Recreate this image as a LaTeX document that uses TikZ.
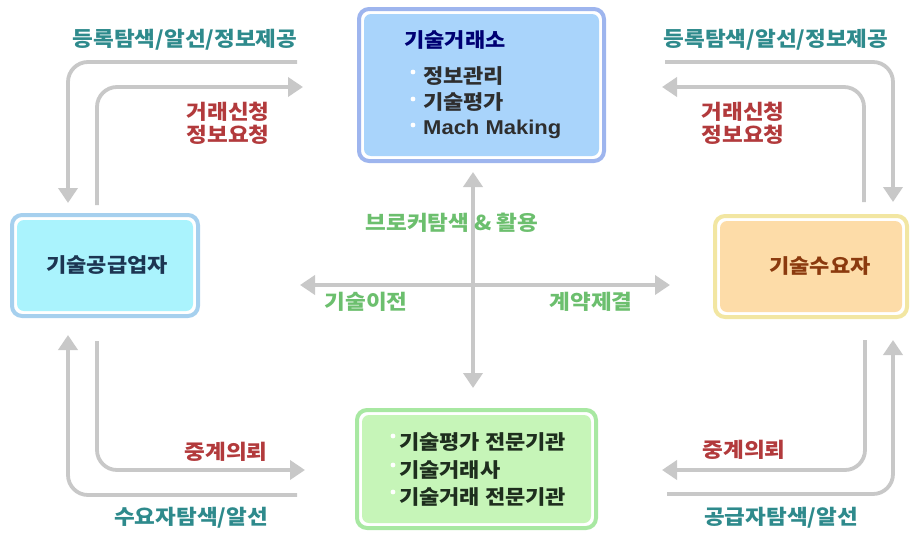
\documentclass[tikz,border=0pt]{standalone}
\usepackage{fontspec}
\setmainfont{Noto Sans CJK KR}[FakeStretch=1.1]
\newfontfamily\latinfont{Liberation Sans}
\usetikzlibrary{arrows.meta}

\definecolor{flowgray}{HTML}{C8C8C8}
\definecolor{tealtxt}{HTML}{2E8A8C}
\definecolor{redtxt}{HTML}{B23A3C}
\definecolor{greentxt}{HTML}{6CBF6E}
\definecolor{exchBorder}{HTML}{9EB5EE}
\definecolor{exchFill}{HTML}{A9D4FB}
\definecolor{suppBorder}{HTML}{A6D0EE}
\definecolor{suppFill}{HTML}{AAF3FD}
\definecolor{demBorder}{HTML}{F2E6A2}
\definecolor{demFill}{HTML}{FDDCA8}
\definecolor{agBorder}{HTML}{A8E8A2}
\definecolor{agFill}{HTML}{C6F5B8}

\tikzset{
  tip/.style={-{Triangle[width=19pt,length=15pt]}},
  flow/.style={draw=flowgray, line width=3.8pt, rounded corners=20pt, tip},
  twoway/.style={draw=flowgray, line width=3.8pt,
    {Triangle[width=19pt,length=15pt]}-{Triangle[width=19pt,length=15pt]}},
  lbl/.style={font=\bfseries\fontsize{20.5}{23}\selectfont, inner sep=0pt},
  boxtxt/.style={font=\bfseries\fontsize{20}{22}\selectfont, inner sep=0pt},
  panel/.style 2 args={draw=#1, line width=4pt, fill=white, rounded corners=10pt,
    inner sep=0pt,
    path picture={\fill[#2, rounded corners=7pt]
      ([shift={(5pt,-5pt)}]path picture bounding box.north west) rectangle
      ([shift={(-5pt,5pt)}]path picture bounding box.south east);}},
  dot/.style={fill=white},
}

\begin{document}
\begin{tikzpicture}[x=1pt,y=-1pt]
\useasboundingbox (0,0) rectangle (912,533);

% ---- boxes ----
\node[panel={exchBorder}{exchFill}, minimum width=245pt, minimum height=152pt] (exch) at (481.5,85) {};
\node[panel={suppBorder}{suppFill}, minimum width=186pt, minimum height=101pt] (supp) at (105,265.5) {};
\node[panel={demBorder}{demFill}, minimum width=192pt, minimum height=101pt] (dem) at (811,266.5) {};
\node[panel={agBorder}{agFill}, minimum width=239pt, minimum height=118pt] (agency) at (476.5,469) {};

% ---- box texts ----
\node[boxtxt, text=blue!45!black] (exchTitle) at (455,40) {기술거래소};
\node[boxtxt, text=black!82, anchor=west] (exchA) at (423,76) {정보관리};
\node[boxtxt, text=black!82, anchor=west] (exchB) at (423,102) {기술평가};
\node[boxtxt, text=black!82, anchor=west] (exchC) at (423,129)
  {\latinfont\fontsize{20}{22}\selectfont\scalebox{1.1}[1]{Mach Making}};
\foreach \yy in {72,99,125} \fill[dot] (413,\yy) circle (2.4pt);

\node[boxtxt, text={rgb,255:red,28;green,53;blue,82}] (suppTxt) at (107,265) {기술공급업자};
\node[boxtxt, text={rgb,255:red,139;green,58;blue,14}] (demTxt) at (820,266) {기술수요자};

\node[boxtxt, text={rgb,255:red,30;green,46;blue,30}, anchor=west] (agA) at (399,442) {기술평가 전문기관};
\node[boxtxt, text={rgb,255:red,30;green,46;blue,30}, anchor=west] (agB) at (399,470) {기술거래사};
\node[boxtxt, text={rgb,255:red,30;green,46;blue,30}, anchor=west] (agC) at (399,497) {기술거래 전문기관};
\foreach \yy in {436,465,492} \fill[dot] (393,\yy) circle (2.4pt);

% ---- arrow end points ----
\coordinate (tlOutA) at (297,62);   \coordinate (tlOutB) at (68,203);
\coordinate (tlInA)  at (97,205);   \coordinate (tlInB)  at (303,87);
\coordinate (trOutA) at (665,62);   \coordinate (trOutB) at (893,202);
\coordinate (trInA)  at (864,202);  \coordinate (trInB)  at (662,87);
\coordinate (blOutA) at (297,495);  \coordinate (blOutB) at (68,335);
\coordinate (blInA)  at (97,341);   \coordinate (blInB)  at (305,470);
\coordinate (brInA)  at (865,340);  \coordinate (brInB)  at (662,470);
\coordinate (brOutA) at (667,494);  \coordinate (brOutB) at (893,340);
\coordinate (vTop) at (473,172);    \coordinate (vBot) at (473,388);
\coordinate (hLeft) at (300,285);   \coordinate (hRight) at (670,285);

% ---- arrows ----
\draw[flow] (tlOutA) -| (tlOutB);
\draw[flow] (tlInA) |- (tlInB);
\draw[flow] (trOutA) -| (trOutB);
\draw[flow] (trInA) |- (trInB);
\draw[flow] (blOutA) -| (blOutB);
\draw[flow] (blInA) |- (blInB);
\draw[flow] (brInA) |- (brInB);
\draw[flow] (brOutA) -| (brOutB);
\draw[twoway] (vTop) -- (vBot);
\draw[twoway] (hLeft) -- (hRight);

% ---- arrow labels ----
\node[lbl, text=tealtxt] (tlTeal) at (185,40) {등록탐색/알선/정보제공};
\node[lbl, text=redtxt, align=center] (tlRed) at (228,123) {거래신청\\정보요청};
\node[lbl, text=tealtxt] (trTeal) at (776,40) {등록탐색/알선/정보제공};
\node[lbl, text=redtxt, align=center] (trRed) at (743,123) {거래신청\\정보요청};
\node[lbl, text=redtxt] (blRed) at (226,452) {중계의뢰};
\node[lbl, text=tealtxt] (blTeal) at (191,518) {수요자탐색/알선};
\node[lbl, text=redtxt] (brRed) at (744,450) {중계의뢰};
\node[lbl, text=tealtxt] (brTeal) at (781,518) {공급자탐색/알선};
\node[lbl, text=greentxt] (broker) at (452,223) {브로커탐색 \& 활용};
\node[lbl, text=greentxt] (transfer) at (366,302) {기술이전};
\node[lbl, text=greentxt] (contract) at (591,302) {계약제결};
\end{tikzpicture}
\end{document}
